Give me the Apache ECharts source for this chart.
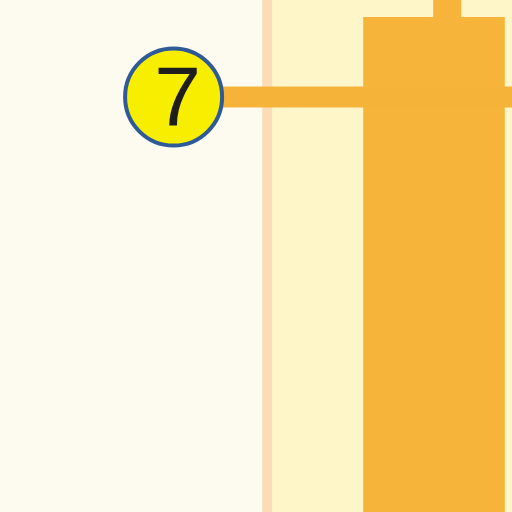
<!DOCTYPE html>
<html>
<head>
<meta charset="utf-8">
<script src="https://cdn.jsdelivr.net/npm/echarts@6/dist/echarts.min.js"></script>
<style>
  html, body { margin: 0; padding: 0; }
  #main { width: 512px; height: 512px; }
</style>
</head>
<body>
<div id="main"></div>
<script>
// values (x in column units, y in value units)
var boxStart = [4.54];
var boxEnd = [6.31];
var boxLow = [1.5];
var boxHigh = [8.0];
var wickX = [5.59];
var wickTop = [9.0];
var markX = [2.17];
var markValue = [7];
var lineEnd = [6.6];
var dividerX = [3.34];

var chart = echarts.init(document.getElementById('main'));

var boxData = boxStart.map(function (s, i) {
  return [s, boxEnd[i], boxLow[i], boxHigh[i]];
});
var wickData = wickX.map(function (x, i) {
  return [x, boxHigh[i], wickTop[i]];
});

var option = {
  backgroundColor: '#fdfaf0',
  animation: false,
  grid: { left: 0, right: 0, top: 0, bottom: 0 },
  xAxis: { type: 'value', min: 0, max: 6.4, show: false },
  yAxis: { type: 'value', min: 1.8125, max: 8.2125, show: false },
  series: [
    {
      // right-hand band and divider
      type: 'line',
      data: [[dividerX[0], 0], [dividerX[0], 10]],
      symbol: 'none',
      z: 1,
      lineStyle: { color: '#fcdcb6', width: 10 },
      markArea: {
        silent: true,
        itemStyle: { color: '#fef6c8' },
        data: [[{ xAxis: dividerX[0] }, { xAxis: 6.4 }]]
      }
    },
    {
      type: 'custom',
      z: 3,
      renderItem: function (params, api) {
        var p0 = api.coord([api.value(0), api.value(3)]);
        var p1 = api.coord([api.value(1), api.value(2)]);
        return {
          type: 'rect',
          shape: { x: p0[0], y: p0[1], width: p1[0] - p0[0], height: p1[1] - p0[1] },
          style: { fill: '#f6b53a' }
        };
      },
      encode: { x: [0, 1], y: [2, 3] },
      data: boxData
    },
    {
      type: 'custom',
      z: 3,
      renderItem: function (params, api) {
        var a = api.coord([api.value(0), api.value(1)]);
        var b = api.coord([api.value(0), api.value(2)]);
        return {
          type: 'line',
          shape: { x1: a[0], y1: a[1], x2: b[0], y2: b[1] },
          style: { stroke: '#f6b53a', lineWidth: 28 }
        };
      },
      encode: { x: 0, y: [1, 2] },
      data: wickData
    },
    {
      type: 'line',
      z: 4,
      symbol: 'none',
      data: [[markX[0], markValue[0]], [lineEnd[0], markValue[0]]],
      lineStyle: { color: '#f5b33a', width: 21 }
    },
    {
      type: 'scatter',
      z: 5,
      symbolSize: 97,
      data: [[markX[0], markValue[0]]],
      itemStyle: { color: '#f8ef00', borderColor: '#2e5b98', borderWidth: 4, opacity: 1 },
      label: {
        show: true,
        position: 'inside',
        offset: [4, 5],
        formatter: function (p) { return String(p.value[1]); },
        fontFamily: 'Liberation Sans',
        fontSize: 84,
        color: '#1e1e1e'
      }
    }
  ]
};

chart.setOption(option);
</script>
</body>
</html>
